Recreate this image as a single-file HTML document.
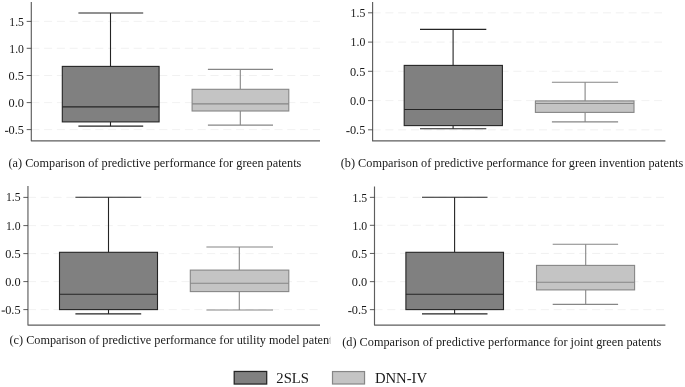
<!DOCTYPE html>
<html><head><meta charset="utf-8"><style>
html,body{margin:0;padding:0;background:#fff;}
svg{display:block;filter:grayscale(1)}
text{font-family:"Liberation Serif",serif;fill:#1a1a1a}
.tk{font-size:12.5px}
.cap{font-size:12.25px}
.lg{font-size:14.7px}
</style></head><body>
<svg width="685" height="387" viewBox="0 0 685 387">
<rect width="685" height="387" fill="#fff"/>
<defs><clipPath id="cc"><rect x="0" y="330" width="330.2" height="24"/></clipPath></defs>
<!-- panel a -->
<line x1="31.3" y1="21.4" x2="320" y2="21.4" stroke="#eeeeee" stroke-width="0.8" stroke-dasharray="8 4.8"/>
<line x1="31.3" y1="48.3" x2="320" y2="48.3" stroke="#eeeeee" stroke-width="0.8" stroke-dasharray="8 4.8"/>
<line x1="31.3" y1="75.5" x2="320" y2="75.5" stroke="#eeeeee" stroke-width="0.8" stroke-dasharray="8 4.8"/>
<line x1="31.3" y1="102.6" x2="320" y2="102.6" stroke="#eeeeee" stroke-width="0.8" stroke-dasharray="8 4.8"/>
<line x1="31.3" y1="129.6" x2="320" y2="129.6" stroke="#eeeeee" stroke-width="0.8" stroke-dasharray="8 4.8"/>
<polyline points="31.3,2 31.3,140.85 320,140.85" fill="none" stroke="#5e5e5e" stroke-width="1.15" stroke-linejoin="round"/>
<line x1="26.700000000000003" y1="21.4" x2="31.3" y2="21.4" stroke="#333" stroke-width="0.8"/>
<text x="9.3" y="25.6" class="tk" textLength="14.7" lengthAdjust="spacingAndGlyphs">1.5</text>
<line x1="26.700000000000003" y1="48.3" x2="31.3" y2="48.3" stroke="#333" stroke-width="0.8"/>
<text x="9.3" y="52.5" class="tk" textLength="14.7" lengthAdjust="spacingAndGlyphs">1.0</text>
<line x1="26.700000000000003" y1="75.5" x2="31.3" y2="75.5" stroke="#333" stroke-width="0.8"/>
<text x="8.6" y="79.7" class="tk" textLength="15.4" lengthAdjust="spacingAndGlyphs">0.5</text>
<line x1="26.700000000000003" y1="102.6" x2="31.3" y2="102.6" stroke="#333" stroke-width="0.8"/>
<text x="8.6" y="106.8" class="tk" textLength="15.4" lengthAdjust="spacingAndGlyphs">0.0</text>
<line x1="26.700000000000003" y1="129.6" x2="31.3" y2="129.6" stroke="#333" stroke-width="0.8"/>
<text x="8.6" y="133.8" class="tk" textLength="15.4" lengthAdjust="spacingAndGlyphs">0.5</text>
<rect x="5.0" y="130.8" width="3.3" height="1.15" fill="#333"/>
<line x1="110.5" y1="12.95" x2="110.5" y2="66.4" stroke="#242424" stroke-width="1.1"/>
<line x1="110.5" y1="121.9" x2="110.5" y2="126.1" stroke="#242424" stroke-width="1.1"/>
<line x1="78.4" y1="12.95" x2="143.2" y2="12.95" stroke="#242424" stroke-width="1.1"/>
<line x1="78.4" y1="126.1" x2="143.2" y2="126.1" stroke="#242424" stroke-width="1.1"/>
<rect x="62.3" y="66.4" width="96.8" height="55.5" fill="#808080" stroke="#242424" stroke-width="1.1"/>
<line x1="62.3" y1="106.9" x2="159.1" y2="106.9" stroke="#242424" stroke-width="1.1"/>
<line x1="240.3" y1="69.4" x2="240.3" y2="89.3" stroke="#868686" stroke-width="1.1"/>
<line x1="240.3" y1="111" x2="240.3" y2="125.1" stroke="#868686" stroke-width="1.1"/>
<line x1="207.9" y1="69.4" x2="273" y2="69.4" stroke="#868686" stroke-width="1.1"/>
<line x1="207.9" y1="125.1" x2="273" y2="125.1" stroke="#868686" stroke-width="1.1"/>
<rect x="192.1" y="89.3" width="96.7" height="21.7" fill="#c4c4c4" stroke="#868686" stroke-width="1.1"/>
<line x1="192.1" y1="103.9" x2="288.8" y2="103.9" stroke="#868686" stroke-width="1.1"/>
<!-- panel b -->
<line x1="372.6" y1="12.8" x2="662" y2="12.8" stroke="#eeeeee" stroke-width="0.8" stroke-dasharray="8 4.8"/>
<line x1="372.6" y1="42.1" x2="662" y2="42.1" stroke="#eeeeee" stroke-width="0.8" stroke-dasharray="8 4.8"/>
<line x1="372.6" y1="71.3" x2="662" y2="71.3" stroke="#eeeeee" stroke-width="0.8" stroke-dasharray="8 4.8"/>
<line x1="372.6" y1="100.6" x2="662" y2="100.6" stroke="#eeeeee" stroke-width="0.8" stroke-dasharray="8 4.8"/>
<line x1="372.6" y1="129.8" x2="662" y2="129.8" stroke="#eeeeee" stroke-width="0.8" stroke-dasharray="8 4.8"/>
<polyline points="372.6,2 372.6,140.9 665.4,140.9" fill="none" stroke="#5e5e5e" stroke-width="1.15" stroke-linejoin="round"/>
<line x1="368.0" y1="12.8" x2="372.6" y2="12.8" stroke="#333" stroke-width="0.8"/>
<text x="350.6" y="17.0" class="tk" textLength="14.7" lengthAdjust="spacingAndGlyphs">1.5</text>
<line x1="368.0" y1="42.1" x2="372.6" y2="42.1" stroke="#333" stroke-width="0.8"/>
<text x="350.6" y="46.3" class="tk" textLength="14.7" lengthAdjust="spacingAndGlyphs">1.0</text>
<line x1="368.0" y1="71.3" x2="372.6" y2="71.3" stroke="#333" stroke-width="0.8"/>
<text x="349.9" y="75.5" class="tk" textLength="15.4" lengthAdjust="spacingAndGlyphs">0.5</text>
<line x1="368.0" y1="100.6" x2="372.6" y2="100.6" stroke="#333" stroke-width="0.8"/>
<text x="349.9" y="104.8" class="tk" textLength="15.4" lengthAdjust="spacingAndGlyphs">0.0</text>
<line x1="368.0" y1="129.8" x2="372.6" y2="129.8" stroke="#333" stroke-width="0.8"/>
<text x="349.9" y="134.0" class="tk" textLength="15.4" lengthAdjust="spacingAndGlyphs">0.5</text>
<rect x="346.3" y="131.0" width="3.3" height="1.15" fill="#333"/>
<line x1="453.1" y1="29.4" x2="453.1" y2="65.4" stroke="#242424" stroke-width="1.1"/>
<line x1="453.1" y1="125.6" x2="453.1" y2="128.8" stroke="#242424" stroke-width="1.1"/>
<line x1="420" y1="29.4" x2="486.3" y2="29.4" stroke="#242424" stroke-width="1.1"/>
<line x1="420" y1="128.8" x2="486.3" y2="128.8" stroke="#242424" stroke-width="1.1"/>
<rect x="404.2" y="65.4" width="98.2" height="60.2" fill="#808080" stroke="#242424" stroke-width="1.1"/>
<line x1="404.2" y1="109.5" x2="502.4" y2="109.5" stroke="#242424" stroke-width="1.1"/>
<line x1="585.1" y1="82.2" x2="585.1" y2="100.9" stroke="#868686" stroke-width="1.1"/>
<line x1="585.1" y1="112.4" x2="585.1" y2="121.9" stroke="#868686" stroke-width="1.1"/>
<line x1="551.9" y1="82.2" x2="618.1" y2="82.2" stroke="#868686" stroke-width="1.1"/>
<line x1="551.9" y1="121.9" x2="618.1" y2="121.9" stroke="#868686" stroke-width="1.1"/>
<rect x="535.4" y="100.9" width="98.6" height="11.5" fill="#c4c4c4" stroke="#868686" stroke-width="1.1"/>
<line x1="535.4" y1="103.5" x2="634.0" y2="103.5" stroke="#868686" stroke-width="1.1"/>
<!-- panel c -->
<line x1="27.95" y1="197.4" x2="317.7" y2="197.4" stroke="#eeeeee" stroke-width="0.8" stroke-dasharray="8 4.8"/>
<line x1="27.95" y1="225.6" x2="317.7" y2="225.6" stroke="#eeeeee" stroke-width="0.8" stroke-dasharray="8 4.8"/>
<line x1="27.95" y1="253.6" x2="317.7" y2="253.6" stroke="#eeeeee" stroke-width="0.8" stroke-dasharray="8 4.8"/>
<line x1="27.95" y1="281.6" x2="317.7" y2="281.6" stroke="#eeeeee" stroke-width="0.8" stroke-dasharray="8 4.8"/>
<line x1="27.95" y1="309.6" x2="317.7" y2="309.6" stroke="#eeeeee" stroke-width="0.8" stroke-dasharray="8 4.8"/>
<polyline points="27.95,186 27.95,325.1 320,325.1" fill="none" stroke="#5e5e5e" stroke-width="1.15" stroke-linejoin="round"/>
<line x1="23.35" y1="197.4" x2="27.95" y2="197.4" stroke="#333" stroke-width="0.8"/>
<text x="5.9" y="201.3" class="tk" textLength="14.7" lengthAdjust="spacingAndGlyphs">1.5</text>
<line x1="23.35" y1="225.6" x2="27.95" y2="225.6" stroke="#333" stroke-width="0.8"/>
<text x="5.9" y="229.5" class="tk" textLength="14.7" lengthAdjust="spacingAndGlyphs">1.0</text>
<line x1="23.35" y1="253.6" x2="27.95" y2="253.6" stroke="#333" stroke-width="0.8"/>
<text x="5.2" y="257.5" class="tk" textLength="15.4" lengthAdjust="spacingAndGlyphs">0.5</text>
<line x1="23.35" y1="281.6" x2="27.95" y2="281.6" stroke="#333" stroke-width="0.8"/>
<text x="5.2" y="285.5" class="tk" textLength="15.4" lengthAdjust="spacingAndGlyphs">0.0</text>
<line x1="23.35" y1="309.6" x2="27.95" y2="309.6" stroke="#333" stroke-width="0.8"/>
<text x="5.2" y="313.5" class="tk" textLength="15.4" lengthAdjust="spacingAndGlyphs">0.5</text>
<rect x="1.6" y="310.5" width="3.3" height="1.15" fill="#333"/>
<line x1="108.5" y1="197.25" x2="108.5" y2="252.3" stroke="#242424" stroke-width="1.1"/>
<line x1="108.5" y1="309.6" x2="108.5" y2="313.9" stroke="#242424" stroke-width="1.1"/>
<line x1="75.4" y1="197.25" x2="141.2" y2="197.25" stroke="#242424" stroke-width="1.1"/>
<line x1="75.4" y1="313.9" x2="141.2" y2="313.9" stroke="#242424" stroke-width="1.1"/>
<rect x="59.5" y="252.3" width="98.0" height="57.3" fill="#808080" stroke="#242424" stroke-width="1.1"/>
<line x1="59.5" y1="294.3" x2="157.5" y2="294.3" stroke="#242424" stroke-width="1.1"/>
<line x1="239.3" y1="247.0" x2="239.3" y2="270.1" stroke="#868686" stroke-width="1.1"/>
<line x1="239.3" y1="291.6" x2="239.3" y2="310" stroke="#868686" stroke-width="1.1"/>
<line x1="206.4" y1="247.0" x2="273" y2="247.0" stroke="#868686" stroke-width="1.1"/>
<line x1="206.4" y1="310" x2="273" y2="310" stroke="#868686" stroke-width="1.1"/>
<rect x="190.3" y="270.1" width="98.5" height="21.5" fill="#c4c4c4" stroke="#868686" stroke-width="1.1"/>
<line x1="190.3" y1="283.3" x2="288.8" y2="283.3" stroke="#868686" stroke-width="1.1"/>
<!-- panel d -->
<line x1="374.5" y1="197.35" x2="664" y2="197.35" stroke="#eeeeee" stroke-width="0.8" stroke-dasharray="8 4.8"/>
<line x1="374.5" y1="225.3" x2="664" y2="225.3" stroke="#eeeeee" stroke-width="0.8" stroke-dasharray="8 4.8"/>
<line x1="374.5" y1="253.45" x2="664" y2="253.45" stroke="#eeeeee" stroke-width="0.8" stroke-dasharray="8 4.8"/>
<line x1="374.5" y1="281.65" x2="664" y2="281.65" stroke="#eeeeee" stroke-width="0.8" stroke-dasharray="8 4.8"/>
<line x1="374.5" y1="309.65" x2="664" y2="309.65" stroke="#eeeeee" stroke-width="0.8" stroke-dasharray="8 4.8"/>
<polyline points="374.5,186.4 374.5,325.1 665.4,325.1" fill="none" stroke="#5e5e5e" stroke-width="1.15" stroke-linejoin="round"/>
<line x1="369.9" y1="197.35" x2="374.5" y2="197.35" stroke="#333" stroke-width="0.8"/>
<text x="352.5" y="201.8" class="tk" textLength="14.7" lengthAdjust="spacingAndGlyphs">1.5</text>
<line x1="369.9" y1="225.3" x2="374.5" y2="225.3" stroke="#333" stroke-width="0.8"/>
<text x="352.5" y="229.7" class="tk" textLength="14.7" lengthAdjust="spacingAndGlyphs">1.0</text>
<line x1="369.9" y1="253.45" x2="374.5" y2="253.45" stroke="#333" stroke-width="0.8"/>
<text x="351.8" y="257.8" class="tk" textLength="15.4" lengthAdjust="spacingAndGlyphs">0.5</text>
<line x1="369.9" y1="281.65" x2="374.5" y2="281.65" stroke="#333" stroke-width="0.8"/>
<text x="351.8" y="286.0" class="tk" textLength="15.4" lengthAdjust="spacingAndGlyphs">0.0</text>
<line x1="369.9" y1="309.65" x2="374.5" y2="309.65" stroke="#333" stroke-width="0.8"/>
<text x="351.8" y="314.0" class="tk" textLength="15.4" lengthAdjust="spacingAndGlyphs">0.5</text>
<rect x="348.2" y="311.0" width="3.3" height="1.15" fill="#333"/>
<line x1="454.6" y1="197.25" x2="454.6" y2="252.3" stroke="#242424" stroke-width="1.1"/>
<line x1="454.6" y1="309.6" x2="454.6" y2="313.9" stroke="#242424" stroke-width="1.1"/>
<line x1="422" y1="197.25" x2="487.5" y2="197.25" stroke="#242424" stroke-width="1.1"/>
<line x1="422" y1="313.9" x2="487.5" y2="313.9" stroke="#242424" stroke-width="1.1"/>
<rect x="405.9" y="252.3" width="97.6" height="57.3" fill="#808080" stroke="#242424" stroke-width="1.1"/>
<line x1="405.9" y1="294.3" x2="503.5" y2="294.3" stroke="#242424" stroke-width="1.1"/>
<line x1="585.7" y1="244.3" x2="585.7" y2="265.4" stroke="#868686" stroke-width="1.1"/>
<line x1="585.7" y1="289.9" x2="585.7" y2="304.4" stroke="#868686" stroke-width="1.1"/>
<line x1="552.7" y1="244.3" x2="618.1" y2="244.3" stroke="#868686" stroke-width="1.1"/>
<line x1="552.7" y1="304.4" x2="618.1" y2="304.4" stroke="#868686" stroke-width="1.1"/>
<rect x="536.5" y="265.4" width="98.1" height="24.5" fill="#c4c4c4" stroke="#868686" stroke-width="1.1"/>
<line x1="536.5" y1="282.3" x2="634.6" y2="282.3" stroke="#868686" stroke-width="1.1"/>
<text x="8.4" y="166.8" class="cap" textLength="293.0" lengthAdjust="spacing">(a) Comparison of predictive performance for green patents</text>
<text x="340.7" y="167.3" class="cap" textLength="342.5" lengthAdjust="spacing">(b) Comparison of predictive performance for green invention patents</text>
<text x="9.5" y="343.7" class="cap" textLength="327.8" lengthAdjust="spacing" clip-path="url(#cc)">(c) Comparison of predictive performance for utility model patents</text>
<text x="342.2" y="345.7" class="cap" textLength="319" lengthAdjust="spacing">(d) Comparison of predictive performance for joint green patents</text>
<rect x="234.2" y="371.45" width="32.5" height="12.6" fill="#808080" stroke="#242424" stroke-width="1.25"/>
<rect x="332.5" y="371.55" width="32.05" height="12.45" fill="#c4c4c4" stroke="#868686" stroke-width="1.2"/>
<text x="276.3" y="382.8" class="lg">2SLS</text>
<text x="374.9" y="382.8" class="lg">DNN-IV</text>
</svg>
</body></html>
